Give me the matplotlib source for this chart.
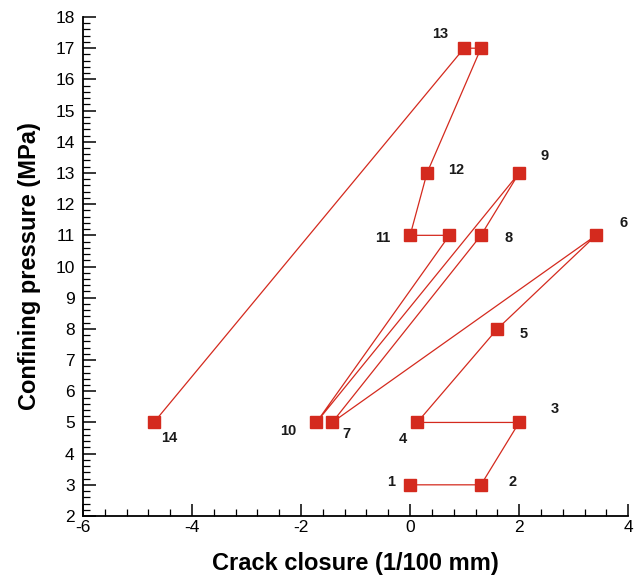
import matplotlib
matplotlib.use("Agg")
import matplotlib.pyplot as plt
from matplotlib.ticker import MultipleLocator

plt.rcParams['font.family'] = ['Liberation Sans', 'DejaVu Sans']
plt.rcParams['axes.unicode_minus'] = False

# path of the test, in load order
closure = [0.0, 1.3, 2.0, 0.13, 1.6, 3.41, -1.43, 1.3, 2.0, -1.72, 0.72, 0.0, 0.31, 1.3, 0.99, -4.7]
pressure = [3, 3, 5, 5, 8, 11, 5, 11, 13, 5, 11, 11, 13, 17, 17, 5]
# stage number for each point (None = no label)
stage = ['1', '2', '3', '4', '5', '6', '7', '8', '9', '10', None, '11', '12', None, '13', '14']

# label offsets in points
offsets = {
    '1': (-14, 2), '2': (23, 2), '3': (26, 10), '4': (-10, -12), '5': (19, -4),
    '6': (20, 9), '7': (10, -8), '8': (20, -2), '9': (18, 12), '10': (-20, -6),
    '11': (-20, -2), '12': (21, 2), '13': (-17, 10), '14': (11, -11),
}

red = '#d42a1e'

fig = plt.figure(figsize=(6.41, 5.77), dpi=100)
ax = fig.add_axes([0.1295, 0.1057, 0.8505, 0.8648])

ax.plot(closure, pressure, color=red, lw=0.9, marker='s', ms=9.2,
        mfc=red, mec=red, zorder=3)

for x, y, s in zip(closure, pressure, stage):
    if s is None:
        continue
    ax.annotate(s, (x, y), xytext=offsets[s], textcoords='offset points',
                ha='center', va='center', fontsize=10.5, fontweight='bold',
                color='#1a1a1a')

ax.set_xlim(-6, 4)
ax.set_ylim(2, 18)
ax.xaxis.set_major_locator(MultipleLocator(2))
ax.xaxis.set_minor_locator(MultipleLocator(0.4))
ax.yaxis.set_major_locator(MultipleLocator(1))
ax.yaxis.set_minor_locator(MultipleLocator(0.2))

for side in ['top', 'right']:
    ax.spines[side].set_visible(False)
for side in ['left', 'bottom']:
    ax.spines[side].set_linewidth(1.3)

ax.tick_params(which='major', direction='in', length=9, width=1.1, labelsize=12.5)
ax.tick_params(axis='y', which='major', pad=6)
ax.tick_params(axis='x', which='major', pad=3)
ax.tick_params(which='minor', direction='in', length=5, width=0.9)

ax.set_xlabel('Crack closure (1/100 mm)', fontsize=17, fontweight='bold', labelpad=12)
ax.set_ylabel('Confining pressure (MPa)', fontsize=17, fontweight='bold', labelpad=10)

fig.savefig('out.png', dpi=100)
